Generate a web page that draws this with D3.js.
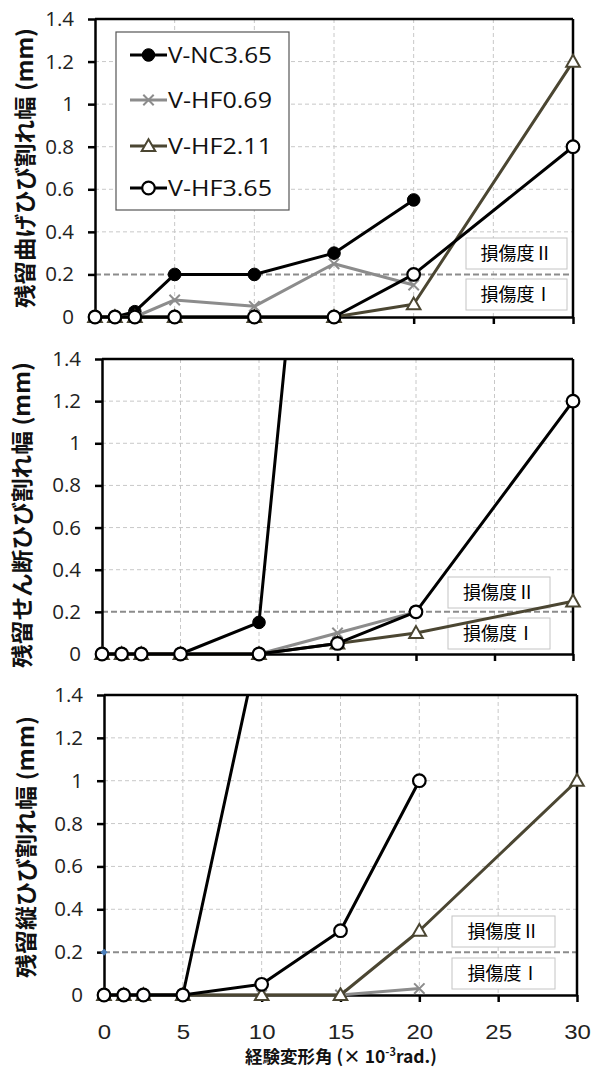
<!DOCTYPE html>
<html>
<head>
<meta charset="utf-8">
<script src="https://cdn.jsdelivr.net/npm/d3@7"></script>
<style>
  html, body { margin: 0; padding: 0; background: #fff; }
  svg { display: block; }
</style>
</head>
<body>
<svg id="chart" width="594" height="1070"></svg>
<script>
// ---------------- DATA ----------------
const xValues = [0, 1.25, 2.5, 5, 10, 15, 20, 30];
const seriesNames = ["V-NC3.65", "V-HF0.69", "V-HF2.11", "V-HF3.65"];
const xTicks = [0, 5, 10, 15, 20, 25, 30];
const yTicks = [0, 0.2, 0.4, 0.6, 0.8, 1, 1.2, 1.4];
const damageLevel = 0.2;
const damageLabels = ["損傷度Ⅱ", "損傷度Ⅰ"];

// Panel 1: residual flexural crack width
const flexNC    = [0, 0, 0.025, 0.2, 0.2, 0.3, 0.55, null];
const flexHF069 = [0, 0, 0, 0.08, 0.05, 0.25, 0.15, null];
const flexHF211 = [0, 0, 0, 0, 0, 0, 0.06, 1.2];
const flexHF365 = [0, 0, 0, 0, 0, 0, 0.2, 0.8];

// Panel 2: residual shear crack width
const shearNC    = [0, 0, 0, 0, 0.15, 3.9, null, null];
const shearHF069 = [0, 0, 0, 0, 0, 0.1, 0.2, null];
const shearHF211 = [0, 0, 0, 0, 0, 0.05, 0.1, 0.25];
const shearHF365 = [0, 0, 0, 0, 0, 0.05, 0.2, 1.2];

// Panel 3: residual longitudinal crack width
const longNC    = [0, 0, 0, 0, 1.7, null, null, null];
const longHF069 = [0, 0, 0, 0, 0, 0, 0.03, null];
const longHF211 = [0, 0, 0, 0, 0, 0, 0.3, 1.0];
const longHF365 = [0, 0, 0, 0, 0.05, 0.3, 1.0, null];

const yTitles = ["残留曲げひび割れ幅 (mm)", "残留せん断ひび割れ幅 (mm)", "残留縦ひび割れ幅 (mm)"];
const xTitleMain = "経験変形角 (× 10";
const xTitleSup = "-3";
const xTitleEnd = "rad.)";

// ---------------- LAYOUT / STYLE ----------------
const styles = [
  { color: "#000000", marker: "dot" },
  { color: "#8c8c8c", marker: "x" },
  { color: "#4b4632", marker: "tri" },
  { color: "#000000", marker: "circle" }
];

const panels = [
  { data: [flexNC, flexHF069, flexHF211, flexHF365], left: 95, right: 573, top: 19, bottom: 317,
    titleX: 23, titleY: 168, titleLen: 280, boxX: 466, boxW: 101, boxY2: 238, boxY1: 279, boxH: 31,
    legend: true, xLabels: false, blueDot: false },
  { data: [shearNC, shearHF069, shearHF211, shearHF365], left: 102, right: 573, top: 359, bottom: 654,
    titleX: 20, titleY: 515, titleLen: 306, boxX: 448, boxW: 102, boxY2: 577, boxY1: 618, boxH: 31,
    legend: false, xLabels: false, blueDot: false },
  { data: [longNC, longHF069, longHF211, longHF365], left: 104, right: 577, top: 695, bottom: 995,
    titleX: 24, titleY: 847, titleLen: 262, boxX: 452, boxW: 103, boxY2: 916, boxY1: 958, boxH: 31,
    legend: false, xLabels: true, blueDot: true }
];

const svg = d3.select("#chart");
const tickFont = "'Open Sans', 'Liberation Sans', sans-serif";
const cjkFont = "'Noto Sans CJK JP', sans-serif";

function drawMarker(g, type, cx, cy, color) {
  if (type === "dot") {
    g.append("circle").attr("cx", cx).attr("cy", cy).attr("r", 6.3)
      .attr("fill", "#000").attr("stroke", "#000").attr("stroke-width", 1);
  } else if (type === "circle") {
    g.append("circle").attr("cx", cx).attr("cy", cy).attr("r", 6.3)
      .attr("fill", "#fff").attr("stroke", "#000").attr("stroke-width", 2.2);
  } else if (type === "tri") {
    const s = 6.8;
    g.append("path")
      .attr("d", `M${cx},${cy - s}L${cx + s},${cy + s * 0.75}L${cx - s},${cy + s * 0.75}Z`)
      .attr("fill", "#fff").attr("stroke", color).attr("stroke-width", 2);
  } else if (type === "x") {
    const s = 5.2;
    g.append("path")
      .attr("d", `M${cx - s},${cy - s}L${cx + s},${cy + s}M${cx - s},${cy + s}L${cx + s},${cy - s}`)
      .attr("stroke", color).attr("stroke-width", 2).attr("fill", "none");
  }
}

panels.forEach((p, pi) => {
  const x = d3.scaleLinear().domain([0, 30]).range([p.left, p.right]);
  const y = d3.scaleLinear().domain([0, 1.4]).range([p.bottom, p.top]);
  const g = svg.append("g");

  const clipId = "clip" + pi;
  svg.append("clipPath").attr("id", clipId).append("rect")
    .attr("x", p.left - 10).attr("y", p.top).attr("width", p.right - p.left + 20)
    .attr("height", p.bottom - p.top + 12);

  // grid
  g.append("g").selectAll("line").data(xTicks.filter(t => t > 0 && t < 30)).join("line")
    .attr("x1", d => x(d)).attr("x2", d => x(d)).attr("y1", p.top).attr("y2", p.bottom)
    .attr("stroke", "#c8c8c8").attr("stroke-width", 1).attr("stroke-dasharray", "4,3");
  g.append("g").selectAll("line").data(yTicks.filter(t => t > 0 && t < 1.4 && t !== damageLevel)).join("line")
    .attr("x1", p.left).attr("x2", p.right).attr("y1", d => y(d)).attr("y2", d => y(d))
    .attr("stroke", "#c8c8c8").attr("stroke-width", 1).attr("stroke-dasharray", "4,3");
  // damage threshold
  g.append("line").attr("x1", p.left).attr("x2", p.right)
    .attr("y1", y(damageLevel)).attr("y2", y(damageLevel))
    .attr("stroke", "#8c8c8c").attr("stroke-width", 2).attr("stroke-dasharray", "6,3");

  // damage boxes
  [[p.boxY2, damageLabels[0]], [p.boxY1, damageLabels[1]]].forEach(([by, label]) => {
    g.append("rect").attr("x", p.boxX).attr("y", by).attr("width", p.boxW).attr("height", p.boxH)
      .attr("fill", "#fff").attr("stroke", "#c4c4c4").attr("stroke-width", 1);
    g.append("text").attr("x", p.boxX + p.boxW / 2).attr("y", by + p.boxH / 2 + 6.5)
      .attr("text-anchor", "middle").attr("font-family", cjkFont).attr("font-size", 18)
      .attr("fill", "#000").text(label);
  });

  // frame (top, right)
  g.append("line").attr("x1", p.left).attr("x2", p.right).attr("y1", p.top).attr("y2", p.top)
    .attr("stroke", "#000").attr("stroke-width", 2.5);
  g.append("line").attr("x1", p.right).attr("x2", p.right).attr("y1", p.top).attr("y2", p.bottom)
    .attr("stroke", "#000").attr("stroke-width", 2.5);

  // axes
  const yAxis = g.append("g").attr("transform", `translate(${p.left},0)`)
    .call(d3.axisLeft(y).tickValues(yTicks).tickSize(7).tickSizeOuter(0).tickPadding(14)
      .tickFormat(d3.format("~g")));
  yAxis.select(".domain").attr("stroke", "#000").attr("stroke-width", 2.5);
  yAxis.selectAll(".tick line").attr("stroke", "#000").attr("stroke-width", 2.5);
  yAxis.selectAll(".tick text").attr("font-family", tickFont).attr("font-size", 20.5).attr("fill", "#222");

  const xAxis = g.append("g").attr("transform", `translate(0,${p.bottom})`)
    .call(d3.axisBottom(x).tickValues(xTicks).tickSize(7).tickSizeOuter(0).tickPadding(23));
  xAxis.select(".domain").attr("stroke", "#000").attr("stroke-width", 2.5);
  xAxis.selectAll(".tick line").attr("stroke", "#000").attr("stroke-width", 2.5);
  if (p.xLabels) {
    xAxis.selectAll(".tick text").attr("font-family", "'Liberation Sans', Arial, sans-serif")
      .attr("font-size", 20).attr("fill", "#222").attr("transform", "scale(1.2,1)");
  } else {
    xAxis.selectAll(".tick text").remove();
  }

  // series
  const plot = g.append("g").attr("clip-path", `url(#${clipId})`);
  p.data.forEach((vals, si) => {
    const pts = xValues.map((xv, i) => [xv, vals[i]]).filter(d => d[1] !== null);
    const line = d3.line().x(d => x(d[0])).y(d => y(d[1]));
    plot.append("path").datum(pts).attr("d", line)
      .attr("fill", "none").attr("stroke", styles[si].color).attr("stroke-width", 3)
      .attr("stroke-linejoin", "round");
    const mg = plot.append("g");
    pts.forEach(d => drawMarker(mg, styles[si].marker, x(d[0]), y(d[1]), styles[si].color));
  });

  if (p.blueDot) {
    const cx = x(0), cy = y(damageLevel);
    g.append("path").attr("d", `M${cx},${cy - 3.5}L${cx + 3.5},${cy}L${cx},${cy + 3.5}L${cx - 3.5},${cy}Z`)
      .attr("fill", "#4a7ebb");
  }

  // y title
  g.append("text")
    .attr("transform", `translate(${p.titleX},${p.titleY}) rotate(-90)`)
    .attr("text-anchor", "middle").attr("dominant-baseline", "central")
    .attr("font-family", cjkFont).attr("font-weight", "bold").attr("font-size", 22)
    .attr("textLength", p.titleLen).attr("lengthAdjust", "spacingAndGlyphs")
    .attr("fill", "#111").text(yTitles[pi]);

  // legend
  if (p.legend) {
    const lg = g.append("g");
    lg.append("rect").attr("x", 116).attr("y", 32).attr("width", 173).attr("height", 178)
      .attr("fill", "#fff").attr("stroke", "#555").attr("stroke-width", 1.2);
    const ys = [55, 100, 146, 188];
    seriesNames.forEach((name, si) => {
      lg.append("line").attr("x1", 130).attr("x2", 167).attr("y1", ys[si]).attr("y2", ys[si])
        .attr("stroke", styles[si].color).attr("stroke-width", 3);
      drawMarker(lg, styles[si].marker, 148.5, ys[si], styles[si].color);
      lg.append("text").attr("x", 168).attr("y", ys[si] + 7.5)
        .attr("font-family", tickFont).attr("font-size", 21.5).attr("fill", "#111")
        .attr("textLength", 104).attr("lengthAdjust", "spacingAndGlyphs").text(name);
    });
  }
});

// x title
const xt = svg.append("text").attr("x", 341).attr("y", 1063).attr("text-anchor", "middle")
  .attr("font-family", cjkFont).attr("font-weight", "bold").attr("font-size", 17.5).attr("fill", "#111");
xt.append("tspan").text(xTitleMain);
xt.append("tspan").attr("font-size", 11).attr("dy", -7).text(xTitleSup);
xt.append("tspan").attr("dy", 7).text(xTitleEnd);
</script>
</body>
</html>
